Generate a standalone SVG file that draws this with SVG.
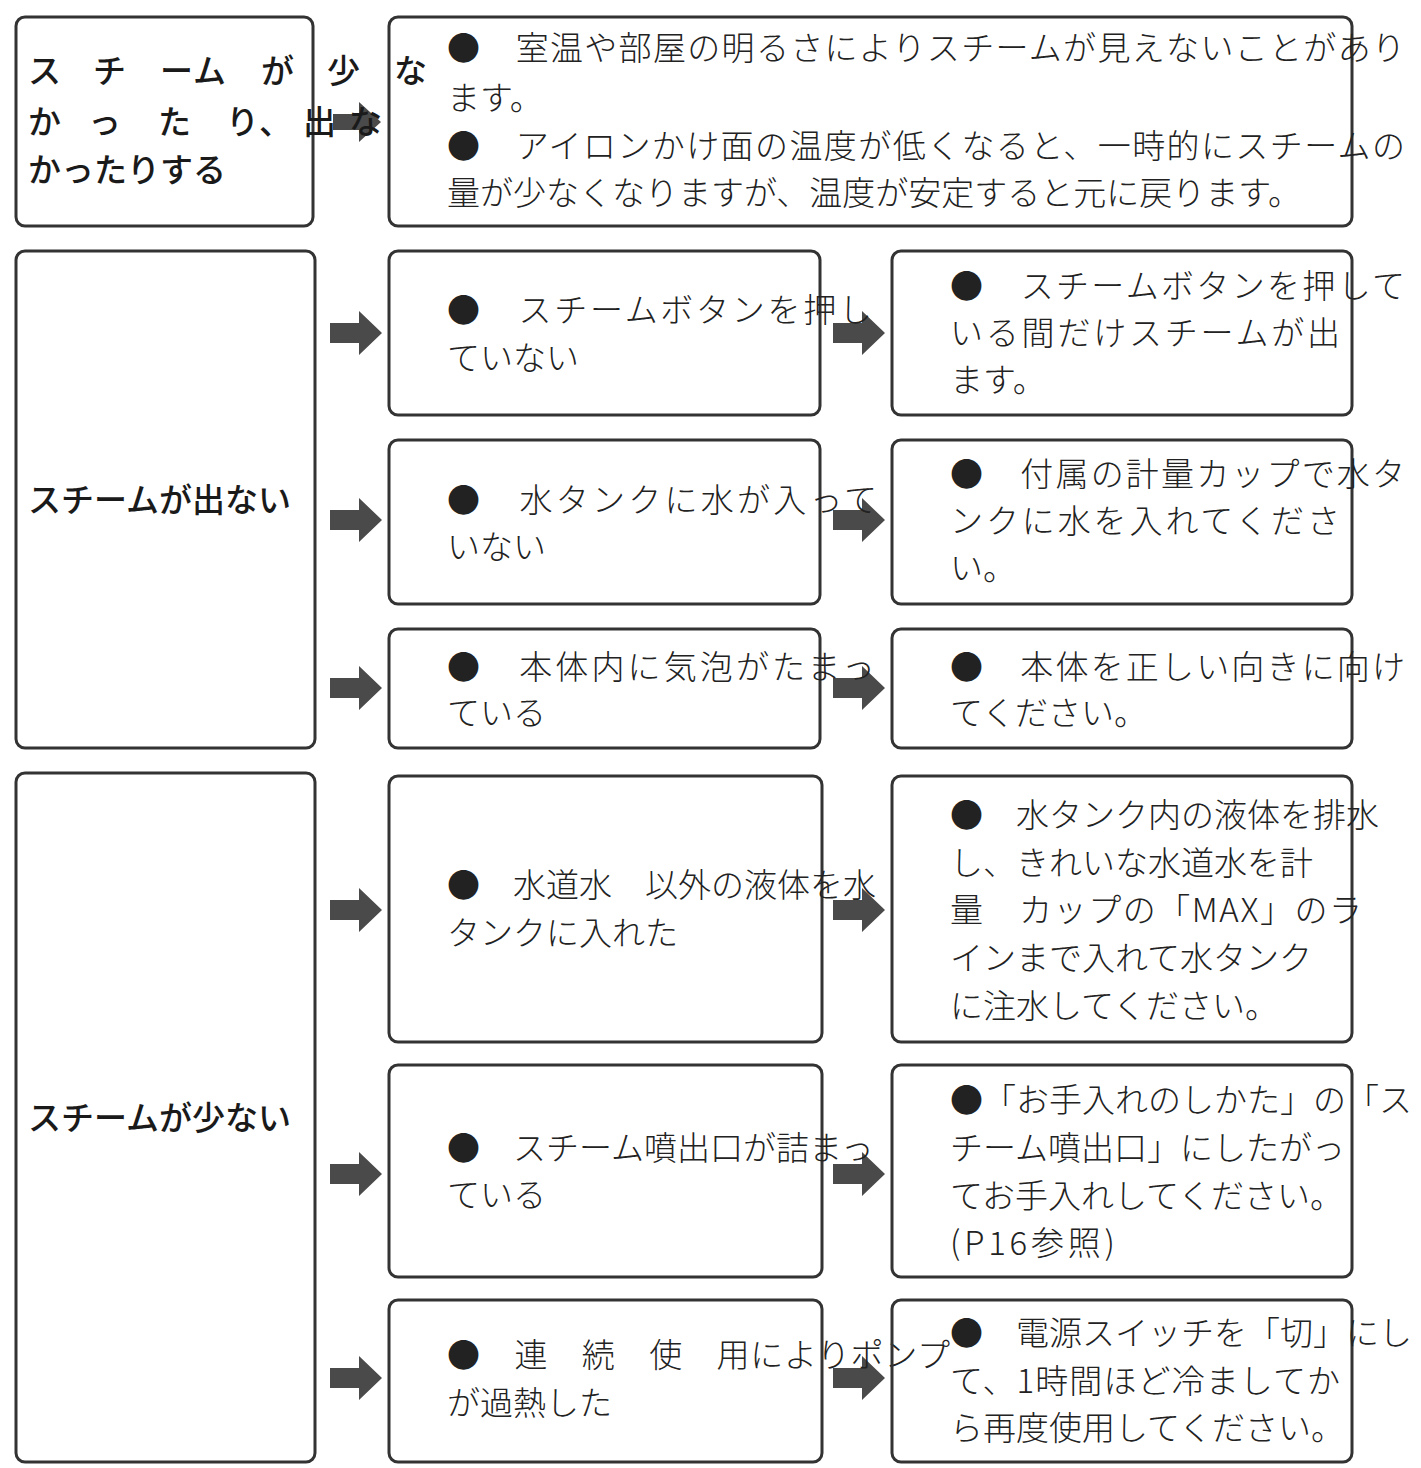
<svg xmlns="http://www.w3.org/2000/svg" width="1421" height="1468" viewBox="0 0 1421 1468">
<style>
.box{fill:none;stroke:#333;stroke-width:3}
.arr{fill:#4a4a4a}
.t{font-family:"Noto Sans CJK JP","Noto Sans",sans-serif;font-size:33px;font-weight:300;fill:#222}
.b{font-family:"Noto Sans CJK JP","Noto Sans",sans-serif;font-size:33px;font-weight:500;fill:#1a1a1a}
</style>
<defs>
<path id="arrow" d="M0,-10 H29 V-22 L52,0 L29,22 V10 H0 Z"/>
</defs>
<rect width="1421" height="1468" fill="#fff"/>
<g id="connectors" class="arr">
<path d="M333,-8 H359 V-20 L381,0 L359,20 V8 H333 Z" transform="translate(0,122)"/>
<use href="#arrow" x="330" y="333"/>
<use href="#arrow" x="330" y="520"/>
<use href="#arrow" x="330" y="688"/>
<use href="#arrow" x="330" y="910"/>
<use href="#arrow" x="330" y="1174"/>
<use href="#arrow" x="330" y="1378"/>
<use href="#arrow" x="833" y="333"/>
<use href="#arrow" x="833" y="520"/>
<use href="#arrow" x="833" y="688"/>
<use href="#arrow" x="833" y="910"/>
<use href="#arrow" x="833" y="1174"/>
<use href="#arrow" x="833" y="1378"/>
</g>
<g id="n1">
<rect class="box" x="16" y="17" width="297" height="209" rx="9"/>
<text class="b" y="83"><tspan x="28">ス</tspan><tspan x="93">チ</tspan><tspan x="160">ー</tspan><tspan x="193">ム</tspan><tspan x="261">が</tspan><tspan x="327">少</tspan><tspan x="394">な</tspan></text>
<text class="b" y="134"><tspan x="28">か</tspan><tspan x="88">っ</tspan><tspan x="158">た</tspan><tspan x="226">り</tspan><tspan x="259">、</tspan><tspan x="303">出</tspan><tspan x="349">な</tspan></text>
<text class="b" x="28" y="182">かったりする</text>
</g>
<g id="n2">
<rect class="box" x="389" y="17" width="963" height="209" rx="9"/>
<text class="t" x="447" y="60" textLength="958" lengthAdjust="spacing">●　室温や部屋の明るさによりスチームが見えないことがあり</text>
<text class="t" x="447" y="110">ます。</text>
<text class="t" x="447" y="158" textLength="958" lengthAdjust="spacing">●　アイロンかけ面の温度が低くなると、一時的にスチームの</text>
<text class="t" x="447" y="205">量が少なくなりますが、温度が安定すると元に戻ります。</text>
</g>
<g id="n3">
<rect class="box" x="16" y="251" width="299" height="497" rx="9"/>
<text class="b" x="28" y="512">スチームが出ない</text>
</g>
<g id="n4">
<rect class="box" x="389" y="251" width="431" height="164" rx="9"/>
<text class="t" x="447" y="322" textLength="425" lengthAdjust="spacing">●　スチームボタンを押し</text>
<text class="t" x="447" y="370">ていない</text>
</g>
<g id="n5">
<rect class="box" x="892" y="251" width="460" height="164" rx="9"/>
<text class="t" x="950" y="298" textLength="455" lengthAdjust="spacing">●　スチームボタンを押して</text>
<text class="t" x="950" y="345" textLength="390" lengthAdjust="spacing">いる間だけスチームが出</text>
<text class="t" x="950" y="392">ます。</text>
</g>
<g id="n6">
<rect class="box" x="389" y="440" width="431" height="164" rx="9"/>
<text class="t" x="447" y="512" textLength="430" lengthAdjust="spacing">●　水タンクに水が入って</text>
<text class="t" x="447" y="559">いない</text>
</g>
<g id="n7">
<rect class="box" x="892" y="440" width="460" height="164" rx="9"/>
<text class="t" x="950" y="486" textLength="455" lengthAdjust="spacing">●　付属の計量カップで水タ</text>
<text class="t" x="950" y="533" textLength="390" lengthAdjust="spacing">ンクに水を入れてくださ</text>
<text class="t" x="950" y="580">い。</text>
</g>
<g id="n8">
<rect class="box" x="389" y="629" width="431" height="119" rx="9"/>
<text class="t" x="447" y="679" textLength="428" lengthAdjust="spacing">●　本体内に気泡がたまっ</text>
<text class="t" x="447" y="725">ている</text>
</g>
<g id="n9">
<rect class="box" x="892" y="629" width="460" height="119" rx="9"/>
<text class="t" x="950" y="679" textLength="455" lengthAdjust="spacing">●　本体を正しい向きに向け</text>
<text class="t" x="950" y="725">てください。</text>
</g>
<g id="n10">
<rect class="box" x="16" y="773" width="299" height="689" rx="9"/>
<text class="b" x="28" y="1130">スチームが少ない</text>
</g>
<g id="n11">
<rect class="box" x="389" y="776" width="433" height="266" rx="9"/>
<text class="t" x="447" y="897">●　水道水　以外の液体を水</text>
<text class="t" x="447" y="945">タンクに入れた</text>
</g>
<g id="n12">
<rect class="box" x="892" y="776" width="460" height="266" rx="9"/>
<text class="t" x="950" y="827">●　水タンク内の液体を排水</text>
<text class="t" x="950" y="875">し、きれいな水道水を計</text>
<text class="t" x="950" y="922" textLength="412" lengthAdjust="spacing">量　カップの「MAX」のラ</text>
<text class="t" x="950" y="970">インまで入れて水タンク</text>
<text class="t" x="950" y="1018">に注水してください。</text>
</g>
<g id="n13">
<rect class="box" x="389" y="1065" width="433" height="212" rx="9"/>
<text class="t" x="447" y="1160">●　スチーム噴出口が詰まっ</text>
<text class="t" x="447" y="1207">ている</text>
</g>
<g id="n14">
<rect class="box" x="892" y="1065" width="460" height="212" rx="9"/>
<text class="t" x="950" y="1112">●「お手入れのしかた」の「ス</text>
<text class="t" x="950" y="1160">チーム噴出口」にしたがっ</text>
<text class="t" x="950" y="1208">てお手入れしてください。</text>
<text class="t" x="950" y="1255" textLength="165" lengthAdjust="spacing">(P16参照)</text>
</g>
<g id="n15">
<rect class="box" x="389" y="1300" width="433" height="162" rx="9"/>
<text class="t" x="447" y="1367" textLength="503" lengthAdjust="spacing">●　連　続　使　用によりポンプ</text>
<text class="t" x="447" y="1415">が過熱した</text>
</g>
<g id="n16">
<rect class="box" x="892" y="1300" width="460" height="162" rx="9"/>
<text class="t" x="950" y="1345">●　電源スイッチを「切」にし</text>
<text class="t" x="950" y="1393" textLength="390" lengthAdjust="spacing">て、1時間ほど冷ましてか</text>
<text class="t" x="950" y="1440">ら再度使用してください。</text>
</g>
</svg>
